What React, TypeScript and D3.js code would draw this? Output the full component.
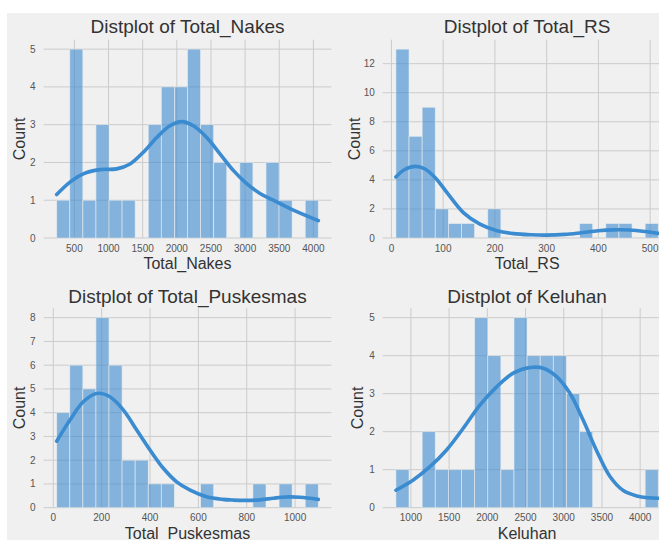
import React from "react";
import * as d3 from "d3";

// ---------- data ----------
const nakesCounts = [1, 5, 1, 3, 1, 1, 0, 3, 4, 4, 5, 3, 2, 0, 2, 0, 2, 1, 0, 1];
const nakesRange = [241, 4072];
const nakesKdeX = [241, 436, 631, 876, 1120, 1315, 1510, 1706, 1900, 2072, 2242, 2438, 2632, 2827, 3023, 3218, 3413, 3657, 4072];
const nakesKdeY = [1.15, 1.48, 1.7, 1.81, 1.83, 1.96, 2.27, 2.66, 2.97, 3.08, 2.97, 2.66, 2.23, 1.79, 1.44, 1.18, 1.0, 0.78, 0.46];
const nakesXTicks = [500, 1000, 1500, 2000, 2500, 3000, 3500, 4000];
const nakesYTicks = [0, 1, 2, 3, 4, 5];

const rsCounts = [13, 7, 9, 2, 1, 1, 0, 2, 0, 0, 0, 0, 0, 0, 1, 0, 1, 1, 0, 1];
const rsRange = [8.7, 515.7];
const rsKdeX = [8.7, 25, 46, 65, 86, 110, 139, 171, 204, 236, 270, 300, 335, 364, 400, 429, 460, 490, 515.7];
const rsKdeY = [4.2, 4.7, 4.93, 4.75, 4.1, 3.0, 1.75, 0.95, 0.5, 0.3, 0.22, 0.2, 0.25, 0.35, 0.5, 0.56, 0.55, 0.45, 0.32];
const rsXTicks = [0, 100, 200, 300, 400, 500];
const rsYTicks = [0, 2, 4, 6, 8, 10, 12];

const puskCounts = [4, 6, 5, 8, 6, 2, 2, 1, 1, 0, 0, 1, 0, 0, 0, 1, 0, 1, 0, 1];
const puskRange = [14, 1096];
const puskKdeX = [14, 69, 124, 179, 234, 290, 345, 400, 455, 510, 566, 634, 700, 745, 800, 855, 910, 960, 1020, 1096];
const puskKdeY = [2.8, 3.69, 4.46, 4.81, 4.67, 4.11, 3.27, 2.43, 1.66, 1.09, 0.74, 0.46, 0.35, 0.32, 0.31, 0.33, 0.4, 0.45, 0.44, 0.35];
const puskXTicks = [0, 200, 400, 600, 800, 1000];
const puskYTicks = [0, 1, 2, 3, 4, 5, 6, 7, 8];

const kelCounts = [1, 0, 2, 1, 1, 1, 5, 4, 1, 5, 4, 4, 4, 3, 2, 0, 0, 0, 0, 1];
const kelRange = [804, 4237];
const kelKdeX = [804, 1031, 1249, 1467, 1685, 1903, 2122, 2339, 2558, 2732, 2907, 3081, 3255, 3430, 3605, 3779, 3954, 4100, 4237];
const kelKdeY = [0.46, 0.73, 1.08, 1.52, 2.09, 2.7, 3.18, 3.54, 3.69, 3.67, 3.45, 3.01, 2.3, 1.5, 0.82, 0.45, 0.31, 0.26, 0.25];
const kelXTicks = [1000, 1500, 2000, 2500, 3000, 3500, 4000];
const kelYTicks = [0, 1, 2, 3, 4, 5];

// ---------- style ----------
const FONT = "'Liberation Sans', Arial, Helvetica, sans-serif";
const BG = "#f0f0f0";
const GRID = "#cbcbcb";
const BLUE = "#3a8bd0";

type PanelProps = {
  title: string;
  xlabel: string;
  counts: number[];
  range: number[];
  kdeX: number[];
  kdeY: number[];
  xTicks: number[];
  yTicks: number[];
  box: { left: number; right: number; top: number; bottom: number };
  ylabelX: number;
  titleY: number;
  xlabelY: number;
};

function Panel(p: PanelProps) {
  const [lo, hi] = p.range;
  const bw = (hi - lo) / p.counts.length;
  const pad = (hi - lo) * 0.05;
  const x = d3.scaleLinear().domain([lo - pad, hi + pad]).range([p.box.left, p.box.right]);
  const ymax = (d3.max(p.counts) as number) * 1.05;
  const y = d3.scaleLinear().domain([0, ymax]).range([p.box.bottom, p.box.top]);
  const line = d3
    .line<number>()
    .x((_, i) => x(p.kdeX[i]))
    .y((d) => y(d))
    .curve(d3.curveCatmullRom.alpha(0.5));
  const cx = (p.box.left + p.box.right) / 2;
  const cy = (p.box.top + p.box.bottom) / 2;
  return (
    <g>
      {p.yTicks.map((t) => (
        <line key={"gy" + t} x1={p.box.left} x2={p.box.right} y1={y(t)} y2={y(t)} stroke={GRID} strokeWidth={1} />
      ))}
      {p.xTicks.map((t) => (
        <line key={"gx" + t} x1={x(t)} x2={x(t)} y1={p.box.top} y2={p.box.bottom} stroke={GRID} strokeWidth={1} />
      ))}
      {p.counts.map((c, i) =>
        c > 0 ? (
          <rect
            key={"b" + i}
            x={x(lo + i * bw)}
            width={x(lo + (i + 1) * bw) - x(lo + i * bw)}
            y={y(c)}
            height={y(0) - y(c)}
            fill={BLUE}
            fillOpacity={0.6}
            stroke={BG}
            strokeOpacity={0.7}
            strokeWidth={0.8}
          />
        ) : null
      )}
      <path d={line(p.kdeY) || ""} fill="none" stroke={BLUE} strokeWidth={3.6} strokeLinecap="round" strokeLinejoin="round" />
      {p.yTicks.map((t) => (
        <text key={"ty" + t} x={p.box.left - 8} y={y(t)} dy="0.35em" textAnchor="end" fontSize={10} fill="#555" fontFamily={FONT}>
          {t}
        </text>
      ))}
      {p.xTicks.map((t) => (
        <text key={"tx" + t} x={x(t)} y={p.box.bottom + 13.5} textAnchor="middle" fontSize={10} fill="#555" fontFamily={FONT}>
          {t}
        </text>
      ))}
      <text x={cx} y={p.titleY} textAnchor="middle" fontSize={19} fill="#333" fontFamily={FONT}>
        {p.title}
      </text>
      <text x={cx} y={p.xlabelY} textAnchor="middle" fontSize={16} fill="#333" fontFamily={FONT}>
        {p.xlabel}
      </text>
      <text
        transform={`translate(${p.ylabelX},${cy}) rotate(-90)`}
        textAnchor="middle"
        fontSize={16}
        fill="#333"
        fontFamily={FONT}
      >
        Count
      </text>
    </g>
  );
}

export default function App() {
  const W = 659;
  const H = 540;
  const leftBox = { left: 43.6, right: 331.4 };
  const rightBox = { left: 382.8, right: 671.4 };
  const topRow = { top: 39.7, bottom: 238 };
  const botRow = { top: 308.2, bottom: 507.7 };
  return (
    <svg width={W} height={H} style={{ position: "absolute", left: 0, top: 0, background: "#fff" }}>
      <rect x={0} y={0} width={W} height={H} fill="#fff" />
      <rect x={7} y={13} width={W - 7} height={H - 13} fill={BG} />
      <Panel
        title="Distplot of Total_Nakes"
        xlabel="Total_Nakes"
        counts={nakesCounts}
        range={nakesRange}
        kdeX={nakesKdeX}
        kdeY={nakesKdeY}
        xTicks={nakesXTicks}
        yTicks={nakesYTicks}
        box={{ ...leftBox, ...topRow }}
        ylabelX={25}
        titleY={33}
        xlabelY={269}
      />
      <Panel
        title="Distplot of Total_RS"
        xlabel="Total_RS"
        counts={rsCounts}
        range={rsRange}
        kdeX={rsKdeX}
        kdeY={rsKdeY}
        xTicks={rsXTicks}
        yTicks={rsYTicks}
        box={{ ...rightBox, ...topRow }}
        ylabelX={359.5}
        titleY={33}
        xlabelY={269}
      />
      <Panel
        title="Distplot of Total_Puskesmas"
        xlabel="Total_Puskesmas"
        counts={puskCounts}
        range={puskRange}
        kdeX={puskKdeX}
        kdeY={puskKdeY}
        xTicks={puskXTicks}
        yTicks={puskYTicks}
        box={{ ...leftBox, ...botRow }}
        ylabelX={25}
        titleY={302.5}
        xlabelY={538.5}
      />
      <Panel
        title="Distplot of Keluhan"
        xlabel="Keluhan"
        counts={kelCounts}
        range={kelRange}
        kdeX={kelKdeX}
        kdeY={kelKdeY}
        xTicks={kelXTicks}
        yTicks={kelYTicks}
        box={{ ...rightBox, ...botRow }}
        ylabelX={363}
        titleY={302.5}
        xlabelY={538.5}
      />
    </svg>
  );
}
